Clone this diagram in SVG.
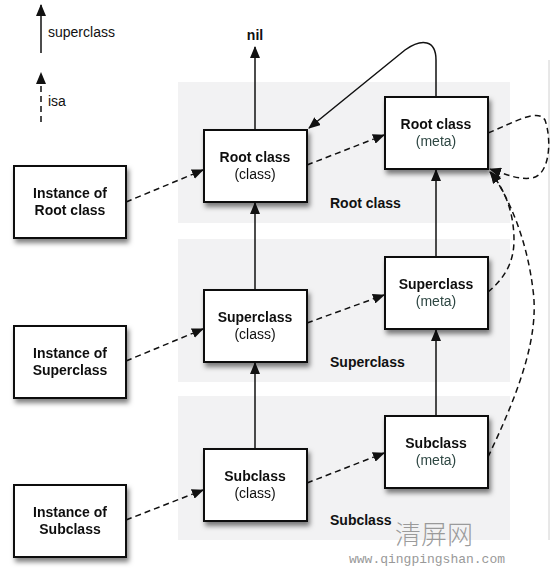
<svg xmlns="http://www.w3.org/2000/svg" width="550" height="575" viewBox="0 0 550 575">
<style>
.panel{fill:#f2f2f3}
.box{fill:#fff;stroke:#111;stroke-width:2}
.t{font-family:"Liberation Sans",Arial,sans-serif;font-size:14px;fill:#111;text-anchor:middle}
.b{font-weight:bold}
.meta{fill:#2e4743}
.solid{fill:none;stroke:#111;stroke-width:1.5}
.dash{fill:none;stroke:#111;stroke-width:1.5;stroke-dasharray:6 4}
.lbl{font-family:"Liberation Sans",Arial,sans-serif;font-size:14px;fill:#111}
</style>
<defs>
<marker id="ah" viewBox="0 0 12 10" refX="11" refY="5" markerWidth="12" markerHeight="10" markerUnits="userSpaceOnUse" orient="auto">
<path d="M0,0 L12,5 L0,10 Z" fill="#111"/>
</marker>
<filter id="sh" x="-20%" y="-20%" width="150%" height="150%">
<feDropShadow dx="2" dy="4" stdDeviation="2.5" flood-color="#000" flood-opacity="0.5"/>
</filter>
</defs>
<rect width="550" height="575" fill="#fff"/>
<line x1="549" y1="60" x2="549" y2="540" stroke="#d0d0d0" stroke-width="1"/>
<g id="panels">
<rect class="panel" x="178" y="82" width="332" height="141"/>
<rect class="panel" x="178" y="239" width="332" height="143"/>
<rect class="panel" x="178" y="396" width="332" height="144"/>
<text class="lbl b" x="330" y="208">Root class</text>
<text class="lbl b" x="330" y="367">Superclass</text>
<text class="lbl b" x="330" y="525">Subclass</text>
</g>
<g id="legend">
<line class="solid" x1="41" y1="53" x2="41" y2="5" marker-end="url(#ah)"/>
<text class="lbl" x="48" y="37">superclass</text>
<line class="dash" x1="41" y1="122" x2="41" y2="73" marker-end="url(#ah)"/>
<text class="lbl" x="48" y="106">isa</text>
</g>
<g id="connectors">
<line class="solid" x1="255" y1="130" x2="255" y2="47" marker-end="url(#ah)"/>
<line class="solid" x1="255" y1="290" x2="255" y2="203" marker-end="url(#ah)"/>
<line class="solid" x1="255" y1="449" x2="255" y2="363" marker-end="url(#ah)"/>
<line class="solid" x1="436" y1="257" x2="436" y2="170" marker-end="url(#ah)"/>
<line class="solid" x1="436" y1="416" x2="436" y2="330" marker-end="url(#ah)"/>
<path class="solid" d="M436,97 L436,60 C436,40 422,38 405,50 L309,128" marker-end="url(#ah)"/>
<line class="dash" x1="126" y1="202" x2="203" y2="170" marker-end="url(#ah)"/>
<line class="dash" x1="126" y1="361" x2="203" y2="329" marker-end="url(#ah)"/>
<line class="dash" x1="126" y1="520" x2="203" y2="490" marker-end="url(#ah)"/>
<line class="dash" x1="307" y1="165" x2="384" y2="135" marker-end="url(#ah)"/>
<line class="dash" x1="307" y1="323" x2="384" y2="295" marker-end="url(#ah)"/>
<line class="dash" x1="307" y1="483" x2="384" y2="453" marker-end="url(#ah)"/>
<path class="dash" d="M488,133 C515,122 538,108 545,120 C552,140 550,175 532,178 C518,180 505,174 490,169" marker-end="url(#ah)"/>
<path class="dash" d="M488,292 C505,278 514,262 514,240 C514,215 506,190 490,172" marker-end="url(#ah)"/>
<path class="dash" d="M488,457 C515,400 540,340 533,290 C527,240 510,200 491,172" marker-end="url(#ah)"/>
</g>
<g id="inst-root" filter="url(#sh)">
<rect class="box" x="14" y="166" width="112" height="72"/>
<text class="t b" x="70" y="198">Instance of</text>
<text class="t b" x="70" y="215">Root class</text>
</g>
<g id="inst-super" filter="url(#sh)">
<rect class="box" x="14" y="326" width="112" height="72"/>
<text class="t b" x="70" y="358">Instance of</text>
<text class="t b" x="70" y="375">Superclass</text>
</g>
<g id="inst-sub" filter="url(#sh)">
<rect class="box" x="14" y="485" width="112" height="72"/>
<text class="t b" x="70" y="517">Instance of</text>
<text class="t b" x="70" y="534">Subclass</text>
</g>
<g id="root-class" filter="url(#sh)">
<rect class="box" x="204" y="130" width="103" height="72"/>
<text class="t b" x="255" y="162">Root class</text>
<text class="t" x="255" y="179">(class)</text>
</g>
<g id="super-class" filter="url(#sh)">
<rect class="box" x="204" y="290" width="103" height="72"/>
<text class="t b" x="255" y="322">Superclass</text>
<text class="t" x="255" y="339">(class)</text>
</g>
<g id="sub-class" filter="url(#sh)">
<rect class="box" x="204" y="449" width="103" height="72"/>
<text class="t b" x="255" y="481">Subclass</text>
<text class="t" x="255" y="498">(class)</text>
</g>
<g id="root-meta" filter="url(#sh)">
<rect class="box" x="385" y="97" width="103" height="72"/>
<text class="t b" x="436" y="129">Root class</text>
<text class="t meta" x="436" y="146">(meta)</text>
</g>
<g id="super-meta" filter="url(#sh)">
<rect class="box" x="385" y="257" width="103" height="72"/>
<text class="t b" x="436" y="289">Superclass</text>
<text class="t meta" x="436" y="306">(meta)</text>
</g>
<g id="sub-meta" filter="url(#sh)">
<rect class="box" x="385" y="416" width="103" height="72"/>
<text class="t b" x="436" y="448">Subclass</text>
<text class="t meta" x="436" y="465">(meta)</text>
</g>
<text class="lbl b" x="255" y="40" text-anchor="middle">nil</text>
<g id="watermark">
<text x="434" y="544" text-anchor="middle" font-family="'Noto Sans CJK SC',sans-serif" font-size="26" font-weight="300" fill="#8a8a8a" fill-opacity="0.85">清屏网</text>
<text x="427" y="563" text-anchor="middle" font-family="'Liberation Mono',monospace" font-size="13" fill="#999">www.qingpingshan.com</text>
</g>
</svg>
